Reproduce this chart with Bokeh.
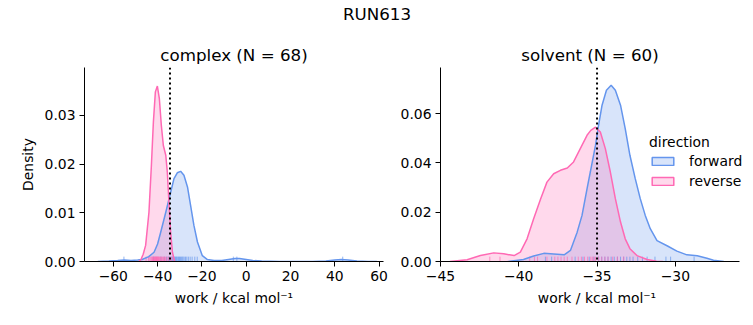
from bokeh.plotting import figure
from bokeh.models import Span, Legend, LegendItem, FixedTicker, Range1d, CustomJSTickFormatter, Title
from bokeh.layouts import column, row
from bokeh.embed import file_html
from bokeh.resources import INLINE
from bokeh.core.properties import value

# ---------------- data ----------------
suptitle = "RUN613"
complex_title = "complex (N = 68)"
solvent_title = "solvent (N = 60)"
xlabel = "work / kcal mol\u207b\u00b9"
ylabel = "Density"
directions = ["forward", "reverse"]

# complex phase: KDE curves
complex_fwd_x = [-67, -62, -58, -55, -52, -49, -47, -44, -41.6, -40, -38.6, -36.3, -34.1, -32.6, -31.1,
                 -29.6, -28.1, -26.5, -25.1, -23.6, -22.0, -19.8, -17.5, -14.5, -11, -8, -5, -3, 0, 3,
                 7, 15, 30, 36, 40, 43, 46, 50, 55, 59]
complex_fwd_y = [0.0, 0.0001, 0.0002, 0.0003, 0.0002, 0.0003, 0.0004, 0.0010, 0.0019, 0.0036, 0.0060,
                 0.0101, 0.0142, 0.0170, 0.0182, 0.0185, 0.0177, 0.0153, 0.0115, 0.0074, 0.0040,
                 0.0012, 0.0004, 0.0002, 0.0002, 0.0004, 0.0006, 0.0006, 0.0004, 0.0002, 0.0001,
                 0.0, 0.0, 0.0001, 0.0003, 0.0004, 0.0003, 0.0001, 0.0, 0.0]
complex_rev_x = [-48.5, -47.5, -46.5, -45.4, -43.9, -42.8, -41.9, -41.0, -40.1, -39.2, -38.3, -37.4,
                 -36.3, -35.6, -34.8, -34.1, -33.3, -32.3]
complex_rev_y = [0.0, 0.0004, 0.0015, 0.0033, 0.0101, 0.0197, 0.0286, 0.0348, 0.0360, 0.0334, 0.0279,
                 0.0238, 0.0218, 0.0183, 0.0115, 0.0060, 0.0019, 0.0]

# solvent phase: KDE curves
solvent_fwd_x = [-40.7, -39.7, -39.05, -38.4, -37.77, -37.1, -36.7, -36.27, -35.96, -35.64, -35.43,
                 -35.1, -34.9, -34.68, -34.4, -34.1, -33.83, -33.5, -33.2, -32.9, -32.56, -32.24,
                 -31.92, -31.6, -31.17, -30.5, -29.9, -29.26, -28.6, -27.98, -27.56, -26.9]
solvent_fwd_y = [0.0, 0.0008, 0.0022, 0.0033, 0.0030, 0.0027, 0.0045, 0.0119, 0.0187, 0.0295, 0.0363,
                 0.0471, 0.0553, 0.0634, 0.0695, 0.0715, 0.0695, 0.0634, 0.0539, 0.0431, 0.0336,
                 0.0255, 0.0187, 0.0133, 0.0085, 0.0063, 0.0042, 0.0027, 0.0023, 0.0013, 0.0005, 0.0]
solvent_rev_x = [-44.4, -43.3, -42.45, -41.6, -40.96, -40.3, -39.9, -39.47, -39.05, -38.6, -38.2,
                 -37.77, -37.34, -36.9, -36.5, -36.07, -35.64, -35.4, -35.1, -34.79, -34.47, -34.15,
                 -33.83, -33.5, -33.2, -32.9, -32.45, -31.8, -31.2, -30.8]
solvent_rev_y = [0.0, 0.0007, 0.0024, 0.0035, 0.0031, 0.0024, 0.0038, 0.0092, 0.0173, 0.0255, 0.0322,
                 0.0356, 0.0370, 0.0379, 0.0404, 0.0458, 0.0512, 0.0532, 0.0545, 0.0525, 0.0458,
                 0.0363, 0.0255, 0.0160, 0.0092, 0.0052, 0.0024, 0.0008, 0.0001, 0.0]

# individual work values (rug)
complex_fwd_work = [-55.2, -41.8, -38.5, -37.0, -35.9, -35.2, -34.6, -34.0, -33.5, -33.1, -32.7, -32.3,
                    -31.9, -31.5, -31.2, -30.8, -30.5, -30.1, -29.7, -29.3, -28.9, -28.5, -28.0, -27.4,
                    -26.8, -26.1, -25.3, -24.4, -23.2, -22.1, -5.8, -4.2, 43.6]
complex_rev_work = [-45.2, -44.1, -43.5, -43.0, -42.6, -42.3, -42.0, -41.8, -41.5, -41.3, -41.1, -40.9,
                    -40.7, -40.5, -40.3, -40.1, -39.9, -39.7, -39.5, -39.2, -38.9, -38.6, -38.2, -37.8,
                    -37.3, -36.9, -36.4, -35.8, -35.1, -34.3, -33.6]
solvent_fwd_work = [-38.3, -37.9, -36.4, -35.9, -35.5, -35.2, -34.9, -34.7, -34.5, -34.3, -34.1, -33.9,
                    -33.7, -33.5, -33.3, -33.1, -32.9, -32.7, -32.4, -32.1, -31.8, -31.3, -30.6, -30.3,
                    -28.8]
solvent_rev_work = [-41.85, -41.2, -39.3, -39.0, -38.8, -38.2, -37.7, -37.5, -37.3, -37.1, -36.9, -36.6,
                    -36.2, -36.0, -35.8, -35.6, -35.4, -35.3, -35.2, -35.1, -34.9, -34.7, -34.5, -34.3,
                    -34.0, -33.7, -33.3]

# free-energy estimates (dotted lines)
complex_estimate = -34.4
solvent_estimate = -35.0

# axes
complex_xlim = (-73.0, 62.0)
complex_ylim = (0.0, 0.0398)
complex_xticks = [-60, -40, -20, 0, 20, 40, 60]
complex_yticks = [0.0, 0.01, 0.02, 0.03]
solvent_xlim = (-45.0, -25.9)
solvent_ylim = (0.0, 0.0787)
solvent_xticks = [-45, -40, -35, -30]
solvent_yticks = [0.0, 0.02, 0.04, 0.06]

# ---------------- style ----------------
FONT = "DejaVu Sans"
FWD = "#6495ED"
REV = "#FF69B4"
TICK_PX = "13.9px"
TITLE_PX = "16.7px"
AX_W = 299      # drawn axis length in px
EXTRA_R = 14    # room to the right of the solvent axis (for the legend)
SOLVENT_TITLE_W = 137.5   # approx. rendered width of the solvent title (px)

xfmt_code = "return (tick < 0 ? '\\u2212' : '') + Math.abs(tick).toFixed(0);"
yfmt_code = "return tick.toFixed(2);"


def make_panel(xlim, ylim, xticks, yticks, curves, rugs, estimate, min_left, min_right,
               show_ylabel, extra_right=0):
    scale = AX_W / (xlim[1] - xlim[0])
    view = (xlim[0], xlim[1] + extra_right / scale)
    p = figure(frame_width=AX_W + extra_right, frame_height=194, x_range=Range1d(*view),
               y_range=Range1d(*ylim),
               toolbar_location=None, output_backend="svg",
               min_border_left=min_left, min_border_right=min_right,
               min_border_top=37, min_border_bottom=50)
    p.title.visible = False
    p.outline_line_color = None
    p.grid.visible = False
    p.background_fill_color = "white"
    p.border_fill_color = "white"

    for ax in (p.xaxis[0], p.yaxis[0]):
        ax.axis_line_color = "black"
        ax.axis_line_width = 1
        ax.major_tick_line_color = "black"
        ax.major_tick_out = 5
        ax.major_tick_in = 0
        ax.minor_tick_line_color = None
        ax.major_label_text_font = FONT
        ax.major_label_text_font_size = TICK_PX
        ax.major_label_text_color = "black"
        ax.axis_label_text_font = FONT
        ax.axis_label_text_font_size = TICK_PX
        ax.axis_label_text_font_style = "normal"
        ax.axis_label_text_color = "black"
        ax.major_label_standoff = 4
        ax.axis_label_standoff = 6
    p.xaxis.ticker = FixedTicker(ticks=xticks)
    p.yaxis.ticker = FixedTicker(ticks=yticks)
    p.xaxis.formatter = CustomJSTickFormatter(code=xfmt_code)
    p.yaxis.formatter = CustomJSTickFormatter(code=yfmt_code)
    p.xaxis.bounds = xlim
    p.xaxis.axis_label = xlabel
    if show_ylabel:
        p.yaxis.axis_label = ylabel

    # filled KDE areas
    for (xs, ys, col) in curves:
        p.varea(x=xs, y1=[0.0] * len(ys), y2=ys, fill_color=col, fill_alpha=0.25)
    # rugs
    rug_h = 0.025 * (ylim[1] - ylim[0])
    for (ws, col) in rugs:
        p.segment(x0=ws, x1=ws, y0=[0.0] * len(ws), y1=[rug_h] * len(ws),
                  line_color=col, line_width=1, line_alpha=0.7)
    # KDE lines
    for (xs, ys, col) in curves:
        p.line(x=xs, y=ys, line_color=col, line_width=1.5)

    p.add_layout(Span(location=estimate, dimension="height", line_color="black",
                      line_dash="2 3", line_width=2))
    return p


p1 = make_panel(complex_xlim, complex_ylim, complex_xticks, complex_yticks,
                [(complex_fwd_x, complex_fwd_y, FWD), (complex_rev_x, complex_rev_y, REV)],
                [(complex_fwd_work, FWD), (complex_rev_work, REV)],
                complex_estimate, 84, 12, True)
p2 = make_panel(solvent_xlim, solvent_ylim, solvent_xticks, solvent_yticks,
                [(solvent_fwd_x, solvent_fwd_y, FWD), (solvent_rev_x, solvent_rev_y, REV)],
                [(solvent_fwd_work, FWD), (solvent_rev_work, REV)],
                solvent_estimate, 45, 0, False, extra_right=EXTRA_R)

# subplot titles
t1 = Title(text=complex_title, align="center", text_font=FONT, text_font_size=TITLE_PX,
           text_font_style="normal", text_color="black", standoff=5)
p1.add_layout(t1, "above")
t2 = Title(text=solvent_title, align="left", text_font=FONT, text_font_size=TITLE_PX,
           text_font_style="normal", text_color="black", standoff=5,
           offset=(AX_W - SOLVENT_TITLE_W) / 2)
p2.add_layout(t2, "above")

# legend (patches); the legend-only quads hold a single NaN row so nothing is drawn in the plot
nan = float("nan")
lf = p2.quad(left=[nan], right=[nan], top=[nan], bottom=[nan], fill_color=FWD, fill_alpha=0.25,
             line_color=FWD, line_width=1.5)
lr = p2.quad(left=[nan], right=[nan], top=[nan], bottom=[nan], fill_color=REV, fill_alpha=0.25,
             line_color=REV, line_width=1.5)
legend = Legend(items=[LegendItem(label=directions[0], renderers=[lf]),
                       LegendItem(label=directions[1], renderers=[lr])],
                title="direction", location=(209, 70))
legend.title_text_font = FONT
legend.title_text_font_size = TICK_PX
legend.title_text_font_style = "normal"
legend.title_text_color = "black"
legend.title_standoff = 1
legend.label_text_font = FONT
legend.label_text_font_size = TICK_PX
legend.label_text_color = "black"
legend.glyph_width = 27
legend.glyph_height = 10
legend.label_height = 20
legend.label_standoff = 13
legend.spacing = 0
legend.padding = 0
legend.margin = 0
legend.border_line_color = None
legend.background_fill_alpha = 0
p2.add_layout(legend)

# header with the overall title
header = figure(width=753, height=30, x_range=Range1d(0, 1), y_range=Range1d(0, 30),
                toolbar_location=None, output_backend="svg", x_axis_type=None, y_axis_type=None,
                min_border=0)
header.outline_line_color = None
header.grid.visible = False
header.text(x=[0.5], y=[17], text=[suptitle], text_align="center", text_baseline="middle",
            text_font=value(FONT), text_font_size=TITLE_PX, text_color="black")

layout = column(header, row(p1, p2))
open("out.html", "w").write(file_html(layout, INLINE))
